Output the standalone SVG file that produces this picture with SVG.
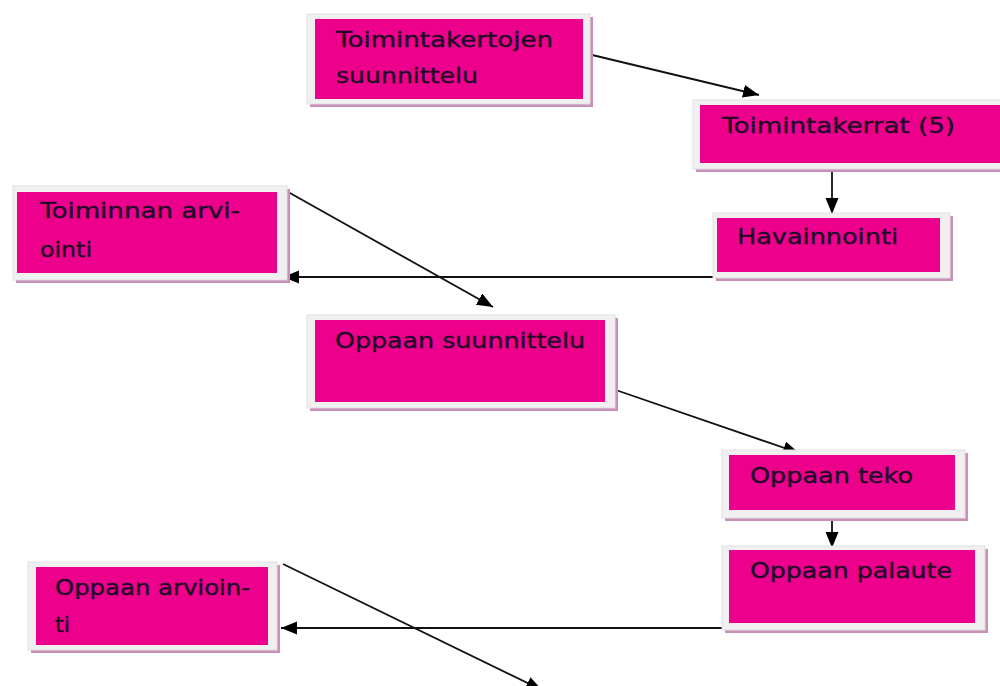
<svg xmlns="http://www.w3.org/2000/svg" width="1000" height="686" viewBox="0 0 1000 686">
<defs>
<marker id="ah" markerUnits="userSpaceOnUse" markerWidth="17" markerHeight="14" refX="16" refY="6.5" orient="auto">
<path d="M0,0 L16,6.5 L0,13 z" fill="#000"/>
</marker>
</defs>
<style>
.sh{fill:#c98fb6}
.fr{fill:#f1f0f1;stroke:#e2dfe2;stroke-width:1}
.mg{fill:#ec008c}
.t{font-family:"DejaVu Sans","Verdana",sans-serif;font-size:20.5px;fill:#1e0a28;stroke:#1e0a28;stroke-width:0.35}
.c{stroke:#111;stroke-width:1.8;fill:none;marker-end:url(#ah)}
</style>
<rect width="1000" height="686" fill="#fff"/>
<g id="connectors">
<line class="c" x1="588" y1="54" x2="759" y2="95"/>
<line class="c" x1="832" y1="165" x2="832" y2="214"/>
<line class="c" x1="281" y1="188" x2="493" y2="307"/>
<line class="c" x1="713" y1="277" x2="283" y2="277"/>
<line class="c" x1="610" y1="388" x2="799" y2="453"/>
<line class="c" x1="832" y1="515" x2="832" y2="548"/>
<line class="c" x1="725" y1="628" x2="281" y2="628"/>
<line class="c" x1="283" y1="564" x2="542" y2="690"/>
</g>
<g id="n1">
<rect class="sh" x="310" y="17" width="283" height="90"/>
<rect class="fr" x="307" y="14" width="283" height="90"/>
<rect class="mg" x="315" y="19" width="268" height="80"/>
<text class="t" x="336" y="47" textLength="217" lengthAdjust="spacingAndGlyphs">Toimintakertojen</text>
<text class="t" x="336" y="83" textLength="142" lengthAdjust="spacingAndGlyphs">suunnittelu</text>
</g>
<g id="n2">
<rect class="sh" x="696" y="103" width="310" height="69"/>
<rect class="fr" x="693" y="100" width="310" height="69"/>
<rect class="mg" x="700" y="105" width="305" height="58"/>
<text class="t" x="722" y="133" textLength="233" lengthAdjust="spacingAndGlyphs">Toimintakerrat (5)</text>
</g>
<g id="n3">
<rect class="sh" x="716" y="216" width="237" height="65"/>
<rect class="fr" x="713" y="213" width="237" height="65"/>
<rect class="mg" x="717" y="218" width="223" height="54"/>
<text class="t" x="737" y="244" textLength="161" lengthAdjust="spacingAndGlyphs">Havainnointi</text>
</g>
<g id="n4">
<rect class="sh" x="16" y="189" width="274" height="94"/>
<rect class="fr" x="13" y="186" width="274" height="94"/>
<rect class="mg" x="17" y="192" width="260" height="81"/>
<text class="t" x="40" y="218" textLength="200" lengthAdjust="spacingAndGlyphs">Toiminnan arvi-</text>
<text class="t" x="40" y="257" textLength="52" lengthAdjust="spacingAndGlyphs">ointi</text>
</g>
<g id="n5">
<rect class="sh" x="310" y="318" width="308" height="93"/>
<rect class="fr" x="307" y="315" width="308" height="93"/>
<rect class="mg" x="315" y="320" width="290" height="82"/>
<text class="t" x="335" y="348" textLength="250" lengthAdjust="spacingAndGlyphs">Oppaan suunnittelu</text>
</g>
<g id="n6">
<rect class="sh" x="725" y="453" width="243" height="68"/>
<rect class="fr" x="722" y="450" width="243" height="68"/>
<rect class="mg" x="729" y="455" width="226" height="55"/>
<text class="t" x="750" y="483" textLength="163" lengthAdjust="spacingAndGlyphs">Oppaan teko</text>
</g>
<g id="n7">
<rect class="sh" x="725" y="549" width="263" height="84"/>
<rect class="fr" x="722" y="546" width="263" height="84"/>
<rect class="mg" x="729" y="550" width="246" height="73"/>
<text class="t" x="750" y="578" textLength="202" lengthAdjust="spacingAndGlyphs">Oppaan palaute</text>
</g>
<g id="n8">
<rect class="sh" x="31" y="565" width="249" height="88"/>
<rect class="fr" x="28" y="562" width="249" height="88"/>
<rect class="mg" x="36" y="567" width="232" height="78"/>
<text class="t" x="55" y="595" textLength="195" lengthAdjust="spacingAndGlyphs">Oppaan arvioin-</text>
<text class="t" x="55" y="632" textLength="15" lengthAdjust="spacingAndGlyphs">ti</text>
</g>
</svg>
